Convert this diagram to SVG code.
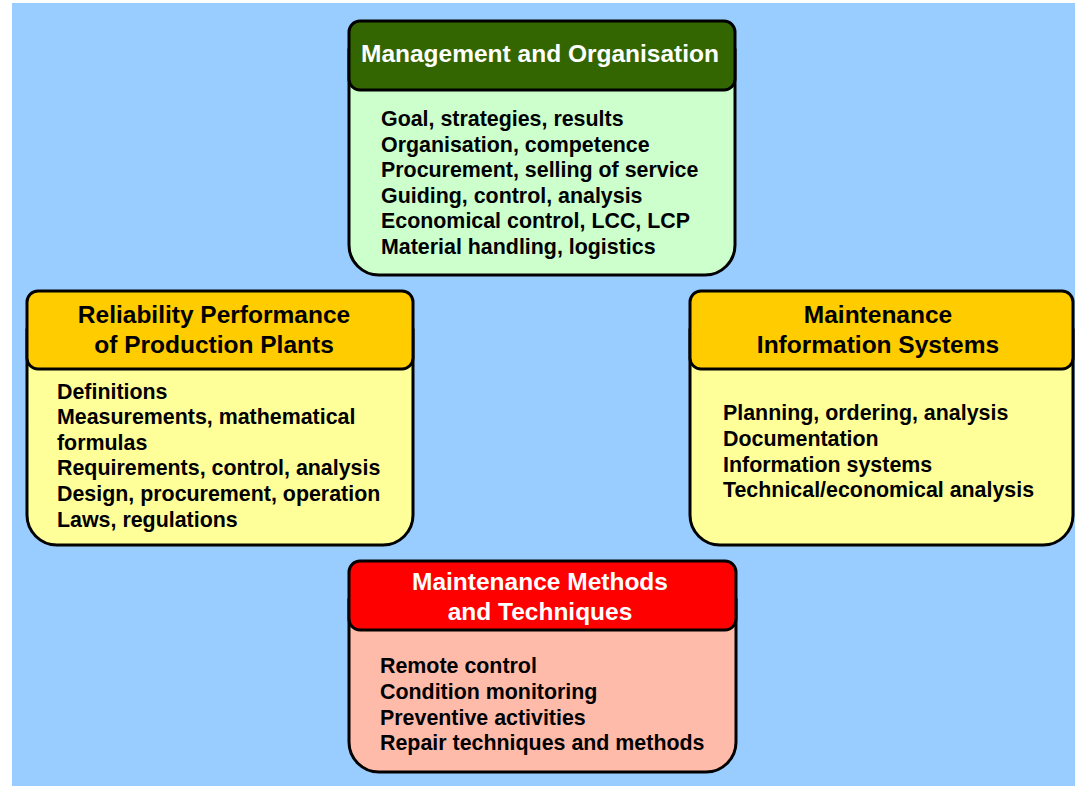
<svg xmlns="http://www.w3.org/2000/svg" width="1075" height="786" viewBox="0 0 1075 786">
<style>
.body{stroke:#000;stroke-width:3}
.head{stroke:#000;stroke-width:3}
.t{font-family:"Liberation Sans",Arial,sans-serif;font-weight:bold;font-size:24.5px;text-anchor:middle}
.b{font-family:"Liberation Sans",Arial,sans-serif;font-weight:bold;font-size:21.4px;fill:#000}
</style>
<rect x="0" y="0" width="1075" height="786" fill="#ffffff"/>
<rect x="12" y="3" width="1063" height="783" fill="#99CCFF"/>
<g id="connectors"></g>
<g id="node-management">
<path class="body" fill="#CCFFCC" d="M349,50 L735,50 L735,245 A30,30 0 0 1 705,275 L379,275 A30,30 0 0 1 349,245 Z"/>
<rect class="head" x="349" y="21" width="386" height="69" rx="11" fill="#336600"/>
<text class="t" x="540" y="62" fill="#ffffff">Management and Organisation</text>
<text class="b" x="381" y="126">Goal, strategies, results</text>
<text class="b" x="381" y="151.5">Organisation, competence</text>
<text class="b" x="381" y="177">Procurement, selling of service</text>
<text class="b" x="381" y="202.5">Guiding, control, analysis</text>
<text class="b" x="381" y="228">Economical control, LCC, LCP</text>
<text class="b" x="381" y="253.5">Material handling, logistics</text>
</g>
<g id="node-reliability">
<path class="body" fill="#FFFF99" d="M27,330 L413,330 L413,515 A30,30 0 0 1 383,545 L57,545 A30,30 0 0 1 27,515 Z"/>
<rect class="head" x="27" y="291" width="386" height="78" rx="11" fill="#FFCC00"/>
<text class="t" x="214" y="323" fill="#000">Reliability Performance</text>
<text class="t" x="214" y="353" fill="#000">of Production Plants</text>
<text class="b" x="57" y="398.5">Definitions</text>
<text class="b" x="57" y="424">Measurements, mathematical</text>
<text class="b" x="57" y="449.5">formulas</text>
<text class="b" x="57" y="475">Requirements, control, analysis</text>
<text class="b" x="57" y="501">Design, procurement, operation</text>
<text class="b" x="57" y="526.5">Laws, regulations</text>
</g>
<g id="node-information">
<path class="body" fill="#FFFF99" d="M690,330 L1073,330 L1073,515 A30,30 0 0 1 1043,545 L720,545 A30,30 0 0 1 690,515 Z"/>
<rect class="head" x="690" y="291" width="383" height="78" rx="11" fill="#FFCC00"/>
<text class="t" x="878" y="323" fill="#000">Maintenance</text>
<text class="t" x="878" y="353" fill="#000">Information Systems</text>
<text class="b" x="723" y="420">Planning, ordering, analysis</text>
<text class="b" x="723" y="446">Documentation</text>
<text class="b" x="723" y="471.5">Information systems</text>
<text class="b" x="723" y="497">Technical/economical analysis</text>
</g>
<g id="node-methods">
<path class="body" fill="#FFBBAA" d="M349,600 L736,600 L736,742 A30,30 0 0 1 706,772 L379,772 A30,30 0 0 1 349,742 Z"/>
<rect class="head" x="349" y="561" width="387" height="69" rx="11" fill="#FF0000"/>
<text class="t" x="540" y="590" fill="#ffffff">Maintenance Methods</text>
<text class="t" x="540" y="619.5" fill="#ffffff">and Techniques</text>
<text class="b" x="380" y="673">Remote control</text>
<text class="b" x="380" y="699">Condition monitoring</text>
<text class="b" x="380" y="724.5">Preventive activities</text>
<text class="b" x="380" y="750">Repair techniques and methods</text>
</g>
</svg>
